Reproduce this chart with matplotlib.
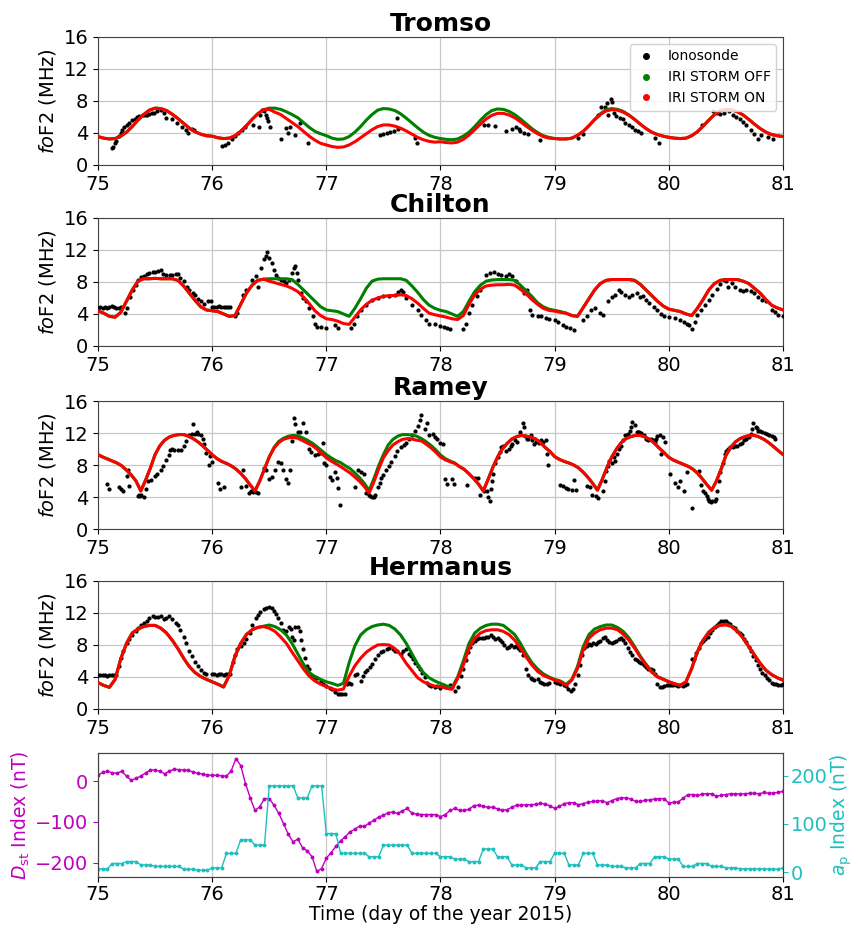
import numpy as np
import matplotlib
matplotlib.use("Agg")
import matplotlib.pyplot as plt
from matplotlib.lines import Line2D

# ---------------------------------------------------------------- time bases
t_grid = 75 + np.arange(121) * 0.05          # IRI output, 0.05-day steps
t_hour = 75 + np.arange(145) / 24.0          # hourly samples

# ---------------------------------------------------------------- Tromso
tromso_off = [3.55, 3.35, 3.25, 3.3, 3.6, 4.1, 4.8, 5.6, 6.3, 6.85, 7.1, 7.05, 6.8, 6.35, 5.8, 5.2, 4.6, 4.15, 3.85, 3.65,
              3.6, 3.4, 3.3, 3.35, 3.65, 4.2, 4.9, 5.7, 6.4, 6.9, 7.1, 7.1, 6.95, 6.65, 6.3, 5.9, 5.3, 4.7, 4.2, 3.9,
              3.66, 3.35, 3.2, 3.25, 3.55, 4.1, 4.8, 5.6, 6.3, 6.85, 7.05, 7.0, 6.8, 6.4, 5.85, 5.25, 4.65, 4.1, 3.7, 3.45,
              3.3, 3.2, 3.15, 3.25, 3.6, 4.1, 4.8, 5.6, 6.3, 6.8, 7.0, 6.95, 6.7, 6.3, 5.75, 5.15, 4.55, 4.05, 3.65, 3.45,
              3.3, 3.25, 3.25, 3.35, 3.7, 4.2, 4.9, 5.7, 6.4, 6.9, 7.05, 6.95, 6.7, 6.25, 5.7, 5.1, 4.55, 4.1, 3.8, 3.6,
              3.45, 3.35, 3.3, 3.35, 3.65, 4.15, 4.85, 5.6, 6.3, 6.8, 6.95, 6.9, 6.65, 6.25, 5.7, 5.1, 4.55, 4.1, 3.8, 3.65,
              3.55]
tromso_on = [3.55, 3.35, 3.25, 3.3, 3.6, 4.1, 4.8, 5.6, 6.3, 6.85, 7.1, 7.05, 6.8, 6.35, 5.8, 5.2, 4.6, 4.15, 3.85, 3.65,
             3.6, 3.4, 3.3, 3.35, 3.65, 4.2, 4.9, 5.7, 6.4, 6.9, 6.95, 6.6, 6.3, 5.8, 5.3, 4.8, 4.2, 3.6, 3.1, 2.7,
             2.5, 2.3, 2.2, 2.25, 2.5, 2.9, 3.4, 3.9, 4.4, 4.8, 5.0, 5.0, 4.85, 4.6, 4.25, 3.85, 3.45, 3.15, 2.95, 2.85,
             2.9, 2.8, 2.75, 2.85, 3.2, 3.75, 4.4, 5.1, 5.75, 6.2, 6.45, 6.45, 6.25, 5.9, 5.4, 4.85, 4.35, 3.9, 3.55, 3.35,
             3.3, 3.25, 3.25, 3.35, 3.7, 4.2, 4.9, 5.65, 6.3, 6.75, 6.9, 6.85, 6.6, 6.2, 5.7, 5.1, 4.55, 4.1, 3.8, 3.6,
             3.45, 3.35, 3.3, 3.35, 3.65, 4.15, 4.85, 5.6, 6.3, 6.8, 6.95, 6.9, 6.65, 6.25, 5.7, 5.1, 4.55, 4.1, 3.8, 3.65,
             3.55]
tromso_iono_t = [75.12, 75.13, 75.15, 75.16, 75.18, 75.20, 75.21, 75.23, 75.25, 75.27, 75.30, 75.32, 75.34, 75.36, 75.39,
                 75.41, 75.43, 75.45, 75.47, 75.49, 75.52, 75.55, 75.58, 75.60, 75.65, 75.69, 75.74, 75.77, 75.79, 75.82, 75.84,
                 76.09, 76.11, 76.14, 76.17, 76.20, 76.23, 76.26, 76.29, 76.36, 76.41, 76.42, 76.44, 76.45, 76.47, 76.48,
                 76.49, 76.51, 76.60, 76.65, 76.66, 76.68, 76.73, 76.77, 76.84,
                 77.47, 77.50, 77.53, 77.56, 77.59, 77.62, 77.63, 77.78, 77.79,
                 78.38, 78.42, 78.48, 78.57, 78.63, 78.66, 78.69, 78.70, 78.73, 78.77, 78.87,
                 79.20, 79.25, 79.38, 79.41, 79.44, 79.46, 79.47, 79.49, 79.50, 79.52, 79.54, 79.57, 79.60, 79.62, 79.65,
                 79.68, 79.70, 79.73, 79.76, 79.88, 79.91,
                 80.29, 80.39, 80.42, 80.45, 80.48, 80.53, 80.56, 80.59, 80.62, 80.65, 80.68, 80.72, 80.75, 80.78, 80.81,
                 80.87, 80.91]
tromso_iono_f = [2.1, 2.3, 2.7, 3.0, 3.6, 4.0, 4.4, 4.7, 5.05, 5.3, 5.6, 5.8, 6.0, 6.1, 6.2,
                 6.2, 6.3, 6.4, 6.5, 6.5, 6.7, 6.9, 6.5, 5.9, 5.7, 5.3, 4.8, 4.4, 4.0, 4.5, 4.4,
                 2.4, 2.5, 2.7, 3.2, 3.6, 4.0, 4.4, 4.8, 5.05, 4.8, 6.3, 6.9, 6.7, 6.3, 5.9,
                 5.5, 4.8, 3.2, 4.6, 4.0, 4.8, 3.7, 5.2, 2.7,
                 3.8, 3.9, 4.0, 4.1, 4.3, 5.9, 4.5, 3.4, 2.7,
                 5.05, 5.05, 4.9, 4.3, 4.5, 4.75, 4.5, 4.2, 4.0, 3.9, 3.1,
                 3.4, 3.9, 6.2, 7.2, 7.2, 7.7, 6.3, 8.2, 7.9, 6.5, 6.1, 5.9, 5.7, 5.3, 5.05,
                 4.75, 4.4, 4.2, 4.0, 3.4, 2.7,
                 5.05, 6.7, 6.5, 6.4, 6.5, 6.7, 6.2, 6.0, 5.8, 5.35, 5.05, 4.4, 3.9, 3.2, 3.7,
                 3.5, 3.2]

# ---------------------------------------------------------------- Chilton
chilton_off = [4.4, 4.1, 3.7, 3.6, 4.2, 5.6, 7.0, 8.1, 8.4, 8.4, 8.45, 8.4, 8.4, 8.4, 8.2, 7.5, 6.6, 5.7, 4.9, 4.5,
               4.4, 4.3, 4.0, 3.7, 3.8, 5.2, 6.6, 7.6, 8.2, 8.35, 8.4, 8.4, 8.4, 8.4, 8.3, 7.7, 7.0, 6.3, 5.6, 4.9,
               4.5, 4.4, 4.3, 4.0, 3.7, 4.7, 5.9, 7.2, 8.1, 8.35, 8.4, 8.4, 8.4, 8.4, 8.2, 7.5, 6.7, 5.8, 5.1, 4.7,
               4.45, 4.3, 4.0, 3.7, 4.3, 5.6, 6.8, 7.6, 8.1, 8.25, 8.3, 8.3, 8.3, 8.2, 7.6, 6.9, 6.2, 5.4, 4.9, 4.6,
               4.45, 4.3, 4.1, 3.8, 3.7, 4.8, 5.9, 7.0, 7.8, 8.2, 8.3, 8.3, 8.3, 8.3, 8.2, 7.7, 7.0, 6.3, 5.6, 5.0,
               4.6, 4.45, 4.3, 4.0, 3.8, 4.7, 5.8, 7.0, 7.8, 8.2, 8.3, 8.3, 8.3, 8.1, 7.8, 7.2, 6.6, 5.8, 5.1, 4.75,
               4.5]
chilton_on = [4.4, 4.1, 3.7, 3.6, 4.2, 5.6, 7.0, 8.1, 8.4, 8.4, 8.45, 8.4, 8.4, 8.4, 8.2, 7.5, 6.6, 5.7, 4.9, 4.5,
              4.4, 4.3, 4.0, 3.7, 3.8, 5.2, 6.6, 7.6, 8.2, 8.35, 8.1, 7.9, 7.7, 7.5, 7.2, 6.8, 6.1, 5.3, 4.4, 3.8,
              3.4, 3.3, 3.1, 2.8, 2.7, 3.6, 4.5, 5.2, 5.7, 6.0, 6.2, 6.3, 6.3, 6.4, 6.3, 5.9, 5.35, 4.7, 4.1, 3.9,
              3.75, 3.6, 3.4, 3.3, 3.8, 5.2, 6.4, 7.1, 7.5, 7.6, 7.65, 7.65, 7.7, 7.6, 7.1, 6.5, 5.8, 5.2, 4.7, 4.45,
              4.35, 4.2, 4.1, 3.8, 3.7, 4.8, 5.9, 7.0, 7.8, 8.2, 8.3, 8.3, 8.3, 8.3, 8.2, 7.7, 7.0, 6.3, 5.6, 5.0,
              4.6, 4.45, 4.3, 4.0, 3.8, 4.7, 5.8, 7.0, 7.8, 8.2, 8.3, 8.3, 8.3, 8.1, 7.8, 7.2, 6.6, 5.8, 5.1, 4.75,
              4.5]
chilton_iono_t = [75.00, 75.02, 75.04, 75.06, 75.08, 75.10, 75.12, 75.14, 75.16, 75.18, 75.20, 75.24, 75.25, 75.28, 75.31,
                  75.33, 75.35, 75.38, 75.40, 75.43, 75.45, 75.48, 75.50, 75.53, 75.55, 75.57, 75.60, 75.63, 75.65, 75.68,
                  75.70, 75.72, 75.75, 75.78, 75.80, 75.83, 75.85, 75.88, 75.90, 75.93, 75.96, 75.99,
                  76.00, 76.02, 76.04, 76.06, 76.08, 76.10, 76.12, 76.14, 76.16, 76.20, 76.22,
                  76.27, 76.30, 76.35, 76.38, 76.40, 76.43, 76.45, 76.47, 76.48, 76.50, 76.52, 76.54, 76.56, 76.58, 76.60,
                  76.63, 76.65, 76.67, 76.70, 76.72, 76.73, 76.74, 76.75, 76.78, 76.80, 76.82, 76.85, 76.88, 76.90, 76.92,
                  76.95, 77.00, 77.08, 77.10,
                  77.22, 77.24, 77.27, 77.30, 77.35, 77.40, 77.45, 77.50, 77.55, 77.60, 77.63, 77.65, 77.67, 77.70, 77.75,
                  77.80, 77.83, 77.87, 77.90, 77.95, 78.00, 78.03, 78.06, 78.08,
                  78.20, 78.22, 78.25, 78.28, 78.32, 78.35, 78.40, 78.43, 78.47, 78.50, 78.53, 78.57, 78.60, 78.63, 78.66,
                  78.70, 78.73, 78.76, 78.78, 78.80, 78.85, 78.88, 78.92, 78.95, 79.00, 79.03, 79.07, 79.10, 79.13, 79.17,
                  79.25, 79.28, 79.32, 79.35, 79.40, 79.42,
                  79.47, 79.50, 79.53, 79.56, 79.58, 79.62, 79.65, 79.68, 79.72, 79.75, 79.77, 79.80, 79.83, 79.87, 79.90,
                  79.93, 79.96, 80.00, 80.05, 80.10, 80.13, 80.16, 80.18, 80.20, 80.23, 80.25, 80.28, 80.32, 80.35, 80.38,
                  80.42, 80.45, 80.48, 80.50, 80.52, 80.55, 80.58, 80.62, 80.65, 80.68, 80.72, 80.75, 80.78, 80.82, 80.85,
                  80.90, 80.93, 80.96, 81.00]
chilton_iono_f = [4.8, 4.9, 4.8, 4.9, 4.8, 4.9, 5.0, 4.9, 4.8, 4.8, 4.9, 4.1, 4.7, 6.1, 7.0,
                  7.6, 8.2, 8.6, 8.8, 9.0, 9.1, 9.2, 9.3, 9.4, 9.5, 9.0, 8.9, 8.9, 8.9, 9.0,
                  9.0, 8.5, 8.1, 7.4, 7.0, 6.6, 6.4, 5.9, 5.6, 5.2, 5.6, 5.6,
                  4.9, 4.9, 4.9, 5.0, 4.9, 4.9, 4.9, 4.9, 4.9, 3.8, 4.1,
                  6.4, 7.0, 8.3, 8.7, 7.4, 9.7, 10.9, 11.2, 11.8, 11.0, 10.4, 9.5, 8.9, 8.5, 8.3,
                  8.1, 7.9, 8.3, 9.1, 9.7, 10.0, 9.1, 8.3, 6.6, 6.0, 5.6, 4.7, 3.7, 2.8, 2.4,
                  2.4, 2.3, 2.6, 2.2,
                  2.2, 2.8, 3.8, 4.5, 5.1, 5.8, 6.0, 6.3, 6.3, 6.4, 6.8, 7.0, 6.7, 6.0, 5.1,
                  4.5, 3.9, 3.3, 2.8, 2.7, 2.5, 2.4, 2.2, 2.1,
                  2.1, 2.8, 4.1, 5.1, 6.2, 7.0, 8.9, 9.1, 9.2, 9.0, 8.9, 8.8, 9.0, 8.7, 8.1,
                  7.2, 6.6, 7.0, 4.5, 3.9, 3.8, 3.7, 3.5, 3.4, 3.2, 3.0, 2.6, 2.4, 2.2, 2.0,
                  3.3, 3.8, 4.5, 4.8, 4.1, 3.9,
                  5.6, 6.1, 6.4, 7.0, 6.7, 6.4, 6.1, 6.4, 6.6, 6.1, 6.3, 5.8, 5.35, 4.9, 4.5,
                  4.0, 3.8, 3.6, 3.5, 3.3, 3.0, 2.8, 2.6, 2.1, 3.0, 3.9, 4.5, 5.1, 5.8, 6.4,
                  7.1, 7.8, 8.3, 8.1, 7.4, 7.9, 7.35, 7.0, 6.9, 7.0, 6.9, 6.6, 6.1, 5.8, 5.6,
                  4.5, 4.2, 3.9, 3.8]

# ---------------------------------------------------------------- Ramey (hourly)
ramey_off = [9.3, 9.0, 8.75, 8.5, 8.25, 7.9, 7.35, 6.75, 6.0, 4.75, 6.1, 7.6, 9.3, 10.4, 11.1, 11.5, 11.7, 11.8, 11.8, 11.6, 11.3, 10.9, 10.4, 9.85,
             9.3, 8.8, 8.45, 8.2, 7.9, 7.5, 6.95, 6.3, 5.5, 4.75, 6.0, 7.5, 9.0, 10.2, 10.95, 11.35, 11.6, 11.7, 11.65, 11.4, 11.1, 10.75, 10.3, 9.8,
             9.3, 8.9, 8.55, 8.3, 7.9, 7.55, 7.0, 6.4, 5.7, 4.8, 6.3, 7.9, 9.3, 10.5, 11.2, 11.6, 11.8, 11.8, 11.75, 11.6, 11.3, 10.9, 10.45, 9.9,
             9.25, 8.8, 8.5, 8.25, 7.8, 7.45, 6.9, 6.3, 5.6, 4.75, 6.2, 7.7, 9.0, 10.0, 10.7, 11.25, 11.55, 11.7, 11.6, 11.5, 11.25, 10.8, 10.2, 9.7,
             9.05, 8.7, 8.45, 8.25, 8.0, 7.65, 7.1, 6.45, 5.7, 4.85, 6.2, 7.7, 9.0, 10.0, 10.8, 11.3, 11.55, 11.7, 11.7, 11.5, 11.2, 10.7, 10.1, 9.55,
             8.95, 8.6, 8.35, 8.1, 7.85, 7.5, 7.0, 6.3, 5.55, 4.85, 6.0, 7.5, 9.2, 10.2, 10.9, 11.3, 11.55, 11.7, 11.7, 11.5, 11.2, 10.8, 10.3, 9.8,
             9.3]
ramey_on = [9.3, 9.0, 8.75, 8.5, 8.25, 7.9, 7.35, 6.75, 6.0, 4.75, 6.1, 7.6, 9.3, 10.4, 11.1, 11.5, 11.7, 11.8, 11.8, 11.6, 11.3, 10.9, 10.4, 9.85,
            9.3, 8.8, 8.45, 8.2, 7.9, 7.5, 6.95, 6.3, 5.5, 4.75, 6.0, 7.5, 9.0, 10.1, 10.8, 11.2, 11.4, 11.45, 11.35, 11.05, 10.75, 10.45, 10.0, 9.45,
            8.9, 8.5, 8.15, 7.8, 7.4, 7.0, 6.5, 5.95, 5.3, 4.5, 5.9, 7.5, 8.9, 9.8, 10.5, 10.9, 11.2, 11.3, 11.25, 11.1, 11.0, 10.6, 10.15, 9.6,
            9.0, 8.65, 8.4, 8.2, 7.8, 7.45, 6.9, 6.3, 5.6, 4.75, 6.2, 7.7, 9.0, 10.0, 10.7, 11.25, 11.55, 11.7, 11.6, 11.5, 11.25, 10.8, 10.2, 9.7,
            9.05, 8.7, 8.45, 8.25, 8.0, 7.65, 7.1, 6.45, 5.7, 4.85, 6.2, 7.7, 9.0, 10.0, 10.8, 11.3, 11.55, 11.7, 11.7, 11.5, 11.2, 10.7, 10.1, 9.55,
            8.95, 8.6, 8.35, 8.1, 7.85, 7.5, 7.0, 6.3, 5.55, 4.85, 6.0, 7.5, 9.2, 10.2, 10.9, 11.3, 11.55, 11.7, 11.7, 11.5, 11.2, 10.8, 10.3, 9.8,
            9.3]
ramey_iono_t = [75.08, 75.10, 75.18, 75.20, 75.22, 75.25, 75.26, 75.27, 75.35, 75.36, 75.37, 75.38, 75.40, 75.42, 75.44,
                75.46, 75.50, 75.52, 75.55, 75.57, 75.60, 75.62, 75.63, 75.65, 75.67, 75.70, 75.73, 75.75, 75.77, 75.80,
                75.82, 75.83, 75.85, 75.87, 75.88, 75.90, 75.92, 75.93, 75.95, 75.97, 75.98, 76.00,
                76.05, 76.07, 76.10, 76.25, 76.27, 76.30, 76.32, 76.34, 76.36, 76.38, 76.40,
                76.45, 76.47, 76.50, 76.52, 76.55, 76.58, 76.60, 76.62, 76.65, 76.66, 76.68, 76.70, 76.72, 76.73, 76.75,
                76.77, 76.80, 76.82, 76.83, 76.85, 76.87, 76.90, 76.93, 76.95, 76.97, 76.98, 77.00,
                77.03, 77.05, 77.08, 77.09, 77.10, 77.12,
                77.25, 77.28, 77.30, 77.33, 77.35, 77.37, 77.38, 77.40, 77.42, 77.43, 77.45, 77.47, 77.48, 77.50, 77.52,
                77.55, 77.57, 77.60, 77.62, 77.65, 77.68, 77.70, 77.72, 77.75, 77.78, 77.80, 77.82, 77.83, 77.86, 77.88,
                77.90, 77.93, 77.95, 77.97, 78.00, 78.02, 78.04, 78.06, 78.10, 78.12,
                78.23, 78.30, 78.33, 78.35, 78.38, 78.41, 78.42, 78.43, 78.44, 78.45, 78.46, 78.48, 78.50, 78.52, 78.53,
                78.55, 78.57, 78.60, 78.62, 78.63, 78.65, 78.67, 78.70, 78.72, 78.73, 78.74, 78.76, 78.77, 78.79, 78.80,
                78.82, 78.84, 78.86, 78.88, 78.90, 78.92, 78.93, 78.94,
                79.05, 79.07, 79.10, 79.12, 79.15, 79.17, 79.19, 79.28, 79.31, 79.33, 79.36, 79.38, 79.42, 79.44, 79.45,
                79.47, 79.48, 79.50, 79.52, 79.53, 79.55, 79.56, 79.58, 79.60, 79.62, 79.64, 79.66, 79.67, 79.68, 79.70,
                79.72, 79.73, 79.74, 79.76, 79.78, 79.80, 79.82, 79.84, 79.86, 79.88, 79.89, 79.90, 79.92, 79.93, 79.95,
                79.97,
                80.01, 80.05, 80.08, 80.10, 80.13, 80.16, 80.20, 80.26, 80.28, 80.30, 80.32, 80.33, 80.34, 80.35, 80.37,
                80.38, 80.40, 80.41, 80.42, 80.44, 80.45, 80.47, 80.49, 80.50, 80.52, 80.54, 80.56, 80.58, 80.60, 80.62,
                80.64, 80.66, 80.68, 80.70, 80.72, 80.73, 80.74, 80.76, 80.77, 80.78, 80.80, 80.82, 80.84, 80.86, 80.88,
                80.90, 80.92, 80.93]
ramey_iono_f = [5.6, 5.0, 5.2, 5.05, 4.75, 6.6, 7.35, 5.4, 4.1, 4.3, 4.1, 4.2, 4.0, 5.0, 6.0,
                6.1, 6.6, 6.9, 7.4, 7.9, 8.6, 9.3, 9.9, 10.0, 9.9, 9.9, 9.9, 10.4, 11.0, 11.7,
                11.9, 13.1, 11.9, 12.1, 11.9, 11.8, 11.2, 10.6, 9.5, 8.0, 9.1, 8.4,
                5.8, 5.0, 5.2, 5.2, 7.35, 5.4, 4.5, 4.7, 4.6, 4.6, 4.5,
                7.6, 7.35, 6.2, 6.5, 7.35, 8.4, 8.2, 7.35, 6.3, 5.8, 7.35, 11.0, 13.9, 13.1, 12.1,
                12.1, 13.2, 12.1, 11.0, 10.0, 9.6, 9.3, 9.4, 9.5, 10.8, 8.2, 8.0,
                6.5, 6.1, 7.1, 6.4, 5.1, 3.0,
                5.3, 7.35, 7.1, 6.9, 4.5, 4.2, 4.1, 4.0, 4.0, 4.3, 5.2, 5.8, 6.4, 6.7, 7.35,
                7.9, 8.4, 9.1, 9.7, 10.2, 10.5, 10.8, 11.2, 11.7, 12.2, 12.9, 13.6, 14.3, 12.5, 13.2,
                11.8, 11.9, 11.5, 11.3, 10.8, 10.6, 6.2, 5.6, 6.2, 5.6,
                5.5, 6.4, 6.4, 4.3, 4.8, 4.75, 4.0, 3.5, 5.0, 6.0, 6.9, 8.2, 9.0, 9.6, 10.2,
                10.4, 9.8, 10.0, 10.4, 10.65, 11.1, 10.9, 12.1, 13.2, 12.8, 11.6, 11.3, 11.2, 11.7, 11.1,
                10.65, 10.9, 10.8, 11.1, 10.9, 11.1, 9.4, 8.0,
                5.5, 5.4, 5.1, 5.0, 4.9, 6.1, 4.85, 5.4, 5.2, 4.3, 4.1, 3.9, 4.75, 6.0, 7.3,
                7.9, 8.5, 8.3, 9.0, 8.5, 9.4, 10.0, 10.4, 11.1, 11.7, 11.9, 12.3, 12.8, 13.4, 13.0,
                12.1, 12.1, 12.1, 12.0, 11.7, 11.3, 11.1, 11.2, 11.1, 10.9, 11.3, 11.6, 11.7, 9.4, 11.5,
                10.9,
                6.9, 5.8, 5.2, 6.0, 4.8, 7.1, 2.65, 7.2, 5.5, 4.75, 4.5, 4.1, 3.7, 3.5, 3.4,
                3.5, 3.5, 3.8, 4.75, 6.0, 7.1, 8.3, 9.4, 9.7, 10.0, 10.2, 10.2, 10.4, 10.4, 10.6,
                10.7, 11.1, 11.3, 11.5, 11.9, 12.5, 13.2, 12.8, 12.6, 12.3, 12.3, 12.1, 12.0, 11.9, 11.7,
                11.6, 11.5, 11.3]

# ---------------------------------------------------------------- Hermanus
hermanus_off = [3.3, 2.95, 2.7, 3.7, 6.3, 8.2, 9.5, 10.0, 10.3, 10.45, 10.45, 10.1, 9.5, 8.6, 7.55, 6.35, 5.3, 4.55, 4.05, 3.7,
                3.4, 3.1, 2.75, 4.2, 6.6, 8.2, 9.3, 9.9, 10.2, 10.35, 10.5, 10.3, 9.9, 9.25, 8.2, 6.9, 5.6, 4.55, 4.05, 3.7,
                3.4, 3.2, 2.95, 3.2, 5.8, 7.9, 9.25, 9.9, 10.3, 10.5, 10.6, 10.45, 10.0, 9.25, 8.2, 6.9, 5.6, 4.55, 3.9, 3.5,
                3.2, 2.9, 2.65, 4.0, 6.0, 8.2, 9.5, 10.1, 10.45, 10.6, 10.6, 10.45, 9.9, 9.3, 8.2, 6.9, 5.8, 5.0, 4.4, 4.0,
                3.7, 3.5, 3.05, 3.7, 5.3, 7.8, 9.3, 10.0, 10.3, 10.5, 10.5, 10.2, 9.7, 8.9, 7.8, 6.6, 5.6, 4.7, 4.05, 3.75,
                3.4, 3.15, 2.95, 3.4, 5.05, 7.15, 8.6, 9.6, 10.2, 10.5, 10.6, 10.35, 9.75, 8.9, 7.8, 6.75, 5.7, 4.85, 4.3, 3.9,
                3.6]
hermanus_on = [3.3, 2.95, 2.7, 3.7, 6.3, 8.2, 9.5, 10.0, 10.3, 10.45, 10.45, 10.1, 9.5, 8.6, 7.55, 6.35, 5.3, 4.55, 4.05, 3.7,
               3.4, 3.1, 2.75, 4.2, 6.6, 8.2, 9.3, 9.9, 10.2, 10.3, 10.1, 9.7, 9.0, 8.2, 7.1, 6.05, 5.0, 4.1, 3.5, 3.1,
               2.8, 2.5, 2.35, 2.5, 4.1, 5.4, 6.35, 7.1, 7.6, 8.0, 8.05, 8.0, 7.55, 6.8, 5.7, 4.8, 3.9, 3.4, 3.1, 2.85,
               2.8, 2.6, 2.45, 3.8, 5.5, 7.6, 8.85, 9.5, 9.8, 9.9, 9.9, 9.7, 9.3, 8.6, 7.6, 6.5, 5.5, 4.7, 4.2, 3.9,
               3.6, 3.4, 2.95, 3.6, 5.05, 7.4, 8.85, 9.5, 9.9, 10.1, 10.1, 9.9, 9.35, 8.6, 7.6, 6.5, 5.5, 4.6, 4.0, 3.7,
               3.4, 3.15, 2.95, 3.4, 5.05, 7.15, 8.6, 9.6, 10.2, 10.45, 10.5, 10.3, 9.7, 8.85, 7.8, 6.75, 5.7, 4.85, 4.3, 3.9,
               3.6]
hermanus_iono_t = [75.00, 75.02, 75.04, 75.06, 75.08, 75.10, 75.12, 75.14, 75.16, 75.18, 75.20, 75.22, 75.25, 75.27, 75.30,
                   75.33, 75.35, 75.38, 75.40, 75.43, 75.45, 75.48, 75.50, 75.53, 75.55, 75.58, 75.60, 75.62, 75.65, 75.68,
                   75.70, 75.72, 75.75, 75.77, 75.80, 75.82, 75.85, 75.88, 75.90, 75.93, 75.95,
                   76.00, 76.02, 76.04, 76.06, 76.08, 76.10, 76.12, 76.14, 76.16, 76.18, 76.20, 76.22, 76.25, 76.28, 76.30,
                   76.33, 76.35, 76.38, 76.40, 76.42, 76.45, 76.47, 76.50, 76.52, 76.54, 76.56, 76.58, 76.60, 76.62, 76.65,
                   76.67, 76.69, 76.70, 76.72, 76.73, 76.75, 76.77, 76.78, 76.80, 76.81, 76.83, 76.85, 76.87, 76.90, 76.92,
                   76.95, 76.97, 77.00, 77.03, 77.05, 77.08, 77.10, 77.12, 77.14, 77.16, 77.18, 77.20, 77.22,
                   77.25, 77.27, 77.30, 77.32, 77.34, 77.36, 77.38, 77.40, 77.43, 77.45, 77.48, 77.50, 77.53, 77.55, 77.58,
                   77.60, 77.62, 77.65, 77.67, 77.70, 77.72, 77.74, 77.76, 77.78, 77.80, 77.82, 77.84, 77.86, 77.88, 77.90,
                   77.92, 77.95, 77.97, 78.00, 78.02, 78.05, 78.08, 78.10, 78.13, 78.15,
                   78.18, 78.20, 78.22, 78.24, 78.26, 78.28, 78.30, 78.32, 78.34, 78.36, 78.38, 78.40, 78.42, 78.44, 78.46,
                   78.48, 78.50, 78.52, 78.54, 78.56, 78.58, 78.60, 78.62, 78.64, 78.66, 78.68, 78.70, 78.72, 78.75, 78.77,
                   78.79, 78.80, 78.82, 78.85, 78.87, 78.89, 78.91, 78.93, 78.95, 79.00, 79.02, 79.05, 79.08, 79.10, 79.12,
                   79.14, 79.16, 79.18, 79.20, 79.22, 79.24, 79.26, 79.28, 79.30, 79.32, 79.34, 79.36, 79.38, 79.40, 79.42,
                   79.44, 79.46, 79.48, 79.50, 79.52, 79.54, 79.56, 79.58, 79.60, 79.62, 79.64, 79.66, 79.68, 79.70, 79.72,
                   79.74, 79.76, 79.78, 79.80, 79.82, 79.84, 79.86, 79.88, 79.90, 79.92, 79.94, 79.96, 79.98, 80.00, 80.02,
                   80.04, 80.06, 80.08, 80.10, 80.12, 80.14, 80.16, 80.20, 80.22, 80.24, 80.26, 80.28, 80.30, 80.32, 80.34,
                   80.36, 80.38, 80.40, 80.42, 80.44, 80.46, 80.48, 80.50, 80.52, 80.54, 80.56, 80.58, 80.60, 80.62, 80.64,
                   80.66, 80.68, 80.70, 80.72, 80.74, 80.76, 80.78, 80.80, 80.82, 80.84, 80.86, 80.88, 80.90, 80.92, 80.94,
                   80.96, 80.98, 81.00]
hermanus_iono_f = [4.3, 4.2, 4.2, 4.2, 4.15, 4.2, 4.2, 4.2, 4.2, 5.4, 6.35, 7.2, 8.2, 8.8, 9.3,
                   9.7, 10.1, 10.45, 10.75, 11.05, 11.4, 11.6, 11.5, 11.5, 11.6, 11.2, 11.4, 11.6, 11.2, 10.75,
                   10.45, 9.9, 9.05, 8.2, 7.3, 6.6, 5.85, 5.4, 4.9, 4.55, 4.35,
                   4.35, 4.35, 4.3, 4.35, 4.35, 4.3, 4.35, 4.35, 4.35, 5.85, 6.8, 7.55, 7.9, 8.2, 8.75,
                   9.5, 10.55, 11.4, 11.8, 12.15, 12.45, 12.65, 12.75, 12.6, 12.3, 11.9, 11.4, 10.75, 9.9, 9.7,
                   10.2, 10.0, 9.0, 8.6, 10.3, 10.2, 9.7, 8.6, 7.55, 6.4, 5.4, 5.0, 4.1, 4.0, 3.9,
                   3.5, 3.1, 2.85, 2.65, 2.45, 2.1, 1.9, 1.9, 1.9, 1.9, 3.1, 3.3, 3.1,
                   4.2, 4.35, 3.5, 4.1, 4.6, 4.9, 5.2, 5.6, 6.3, 6.7, 7.1, 7.3, 7.5, 7.65, 7.5,
                   7.2, 7.2, 6.9, 7.3, 7.55, 6.9, 6.6, 6.3, 5.75, 5.4, 5.0, 4.55, 4.05, 3.3, 2.95,
                   2.85, 2.8, 2.85, 2.65, 2.95, 2.75, 2.95, 2.75, 2.2, 2.75,
                   4.1, 5.05, 6.1, 7.15, 7.8, 8.2, 8.5, 8.75, 8.85, 8.9, 8.85, 9.05, 9.05, 9.25, 9.05,
                   8.75, 8.85, 8.6, 8.4, 8.0, 7.6, 7.8, 8.0, 7.7, 7.9, 7.6, 7.4, 6.75, 5.05, 4.3,
                   3.9, 3.7, 3.6, 3.8, 3.4, 3.3, 3.15, 3.15, 3.3, 3.35, 3.3, 3.15, 2.95, 2.9, 2.5,
                   2.2, 2.45, 3.15, 4.2, 5.5, 6.75, 7.65, 7.9, 8.1, 8.0, 8.2, 8.1, 8.4, 8.5, 8.85,
                   9.05, 8.6, 8.35, 8.2, 8.35, 8.5, 8.75, 8.9, 8.6, 8.2, 7.6, 7.15, 6.75, 6.3, 6.1,
                   5.9, 5.7, 5.5, 5.25, 5.05, 4.95, 4.85, 4.4, 3.15, 2.75, 2.75, 2.9, 2.95, 3.05, 2.95,
                   3.05, 2.95, 2.9, 2.95, 2.9, 2.95, 3.15, 6.3, 6.3, 6.95, 7.65, 8.2, 8.5, 8.75, 9.05,
                   9.5, 9.9, 10.2, 10.5, 10.75, 10.95, 11.0, 10.95, 10.75, 10.6, 10.3, 10.1, 9.75, 9.5, 9.2,
                   8.8, 8.35, 7.8, 7.25, 6.65, 6.1, 5.5, 4.95, 4.55, 4.2, 3.9, 3.6, 3.3, 3.15, 3.15,
                   2.95, 3.05, 3.15]

# ---------------------------------------------------------------- geomagnetic indices
dst_hourly = [15, 21, 24, 20, 19, 24, 12, 2, 7, 12, 20, 27, 27, 24, 18, 24, 29, 28, 27, 26, 22, 19, 17, 15,
              14, 14, 13, 12, 25, 55, 38, -6, -41, -72, -63, -43, -43, -59, -79, -104, -130, -149, -142, -163, -171, -185, -221, -214,
              -189, -175, -160, -146, -136, -124, -118, -110, -111, -103, -96, -88, -84, -77, -76, -79, -73, -67, -79, -81, -82, -82, -82, -82,
              -87, -82, -72, -67, -72, -72, -69, -60, -59, -62, -64, -64, -68, -71, -70, -64, -59, -59, -58, -58, -57, -54, -57, -60,
              -67, -62, -55, -53, -53, -58, -55, -52, -50, -49, -48, -53, -48, -43, -41, -41, -44, -50, -50, -47, -46, -44, -43, -43,
              -54, -52, -51, -42, -33, -33, -35, -32, -31, -31, -37, -35, -33, -31, -31, -32, -31, -30, -30, -31, -28, -30, -29, -28,
              -25]
ap_3hourly = [7, 18, 22, 15, 12, 12, 6, 4,
              9, 39, 67, 56, 179, 179, 154, 179,
              80, 39, 39, 32, 56, 56, 39, 39,
              32, 27, 22, 48, 32, 15, 9, 22,
              39, 15, 39, 15, 12, 9, 18, 32,
              27, 12, 18, 12, 9, 7, 7, 6]
ap_final = 9

# ---------------------------------------------------------------- figure
plt.rcParams['font.family'] = ['DejaVu Sans']
fig = plt.figure(figsize=(8.58, 9.33), dpi=100)

left, width = 0.1142, 0.7984
panel_boxes = [0.8232, 0.6292, 0.4330, 0.2401]
panel_height = 0.1372

green = '#008000'
red = '#ff0000'

stations = [
    ("Tromso", t_grid, tromso_off, tromso_on, tromso_iono_t, tromso_iono_f),
    ("Chilton", t_grid, chilton_off, chilton_on, chilton_iono_t, chilton_iono_f),
    ("Ramey", t_hour, ramey_off, ramey_on, ramey_iono_t, ramey_iono_f),
    ("Hermanus", t_grid, hermanus_off, hermanus_on, hermanus_iono_t, hermanus_iono_f),
]

for (name, tm, off, on, ti, fi), bottom in zip(stations, panel_boxes):
    ax = fig.add_axes([left, bottom, width, panel_height])
    ax.plot(ti, fi, linestyle='none', marker='o', markersize=2.0, color='black', zorder=3)
    ax.plot(tm, off, color=green, lw=2.2, solid_capstyle='round', zorder=4)
    ax.plot(tm, on, color=red, lw=2.2, solid_capstyle='round', zorder=5)
    ax.set_xlim(75, 81)
    ax.set_ylim(0, 16)
    ax.set_xticks(range(75, 82))
    ax.set_yticks([0, 4, 8, 12, 16])
    ax.tick_params(labelsize=14)
    ax.grid(True, color='#c8c8c8', lw=0.9)
    ax.set_axisbelow(True)
    ax.set_ylabel(r'$fo$F2 (MHz)', fontsize=14)
    ax.set_title(name, fontsize=18, fontweight='bold', pad=4)
    for s in ax.spines.values():
        s.set_color('#444444')
    if name == "Tromso":
        handles = [
            Line2D([], [], linestyle='none', marker='o', markersize=4, color='black', label='Ionosonde'),
            Line2D([], [], linestyle='none', marker='o', markersize=4, color=green, label='IRI STORM OFF'),
            Line2D([], [], linestyle='none', marker='o', markersize=4, color=red, label='IRI STORM ON'),
        ]
        ax.legend(handles=handles, loc='upper right', fontsize=10, handlelength=1.5,
                  framealpha=0.85, borderaxespad=0.5)

# ---------------------------------------------------------------- Dst / ap panel
ax_d = fig.add_axes([left, 0.0600, width, 0.1330])
dst_color = '#bf00bf'
ap_color = '#1fbfbf'
ax_d.plot(t_hour, dst_hourly, color=dst_color, lw=1.0, marker='o', markersize=1.8)
ax_d.set_xlim(75, 81)
ax_d.set_xticks(range(75, 82))
ax_d.set_yticks([-200, -100, 0])
ax_d.tick_params(axis='y', colors=dst_color, labelsize=14)
ax_d.tick_params(axis='x', labelsize=14, pad=2)
ax_d.set_ylabel(r'$D_{\mathrm{st}}$ Index (nT)', color=dst_color, fontsize=13.5, labelpad=2)
ax_d.set_xlabel('Time (day of the year 2015)', fontsize=13.5, labelpad=1)
ax_d.grid(True, axis='x', color='#c8c8c8', lw=0.9)
ax_d.set_axisbelow(True)

ap_hourly = np.append(np.repeat(ap_3hourly, 3), ap_final)
ax_a = ax_d.twinx()
ax_a.plot(t_hour, ap_hourly, color=ap_color, lw=1.0, marker='o', markersize=1.8)
ax_a.set_ylim(-10, 247)
ax_a.set_yticks([0, 100, 200])
ax_a.tick_params(axis='y', colors=ap_color, labelsize=14, pad=2)
ax_a.set_ylabel(r'$a_{\mathrm{p}}$ Index (nT)', color=ap_color, fontsize=13.5, labelpad=1)
for a in (ax_d, ax_a):
    for s in a.spines.values():
        s.set_color('#444444')

fig.savefig('out.png', dpi=100)
